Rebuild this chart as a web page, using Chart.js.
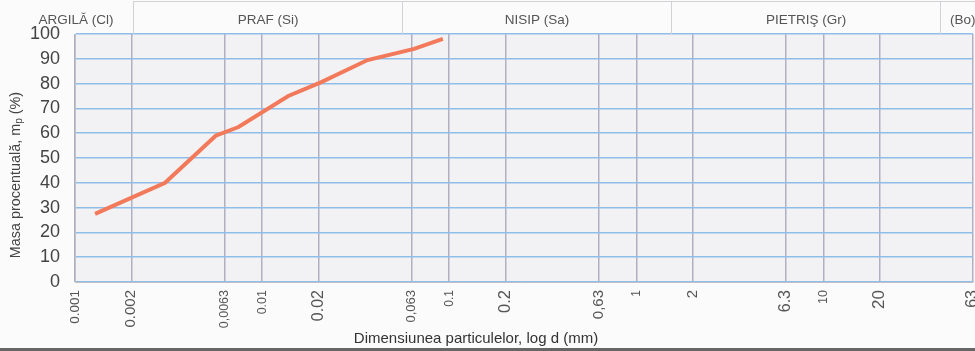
<!DOCTYPE html>
<html>
<head>
<meta charset="utf-8">
<script src="https://cdn.jsdelivr.net/npm/chart.js@4/dist/chart.umd.min.js"></script>
<style>
html,body{margin:0;padding:0;background:#fbfbfb;}
canvas{display:block;}
</style>
</head>
<body>
<canvas id="c" width="975" height="351"></canvas>
<script>
// ---- data ----
const sizes = [0.00128, 0.00303, 0.00565, 0.00748, 0.0138, 0.0206, 0.0366, 0.0649, 0.0925];
const passing = [27.5, 40, 59, 62.5, 75, 80.5, 89.5, 94, 98];
const xTickValues = [0.001, 0.002, 0.0063, 0.01, 0.02, 0.063, 0.1, 0.2, 0.63, 1, 2, 6.3, 10, 20, 63];
const xTickLabels = ['0.001', '0.002', '0,0063', '0.01', '0.02', '0,063', '0.1', '0.2', '0,63', '1', '2', '6.3', '10', '20', '63'];
const xTickSizes = [13.5, 15, 12.5, 12.5, 16, 13, 12, 16.5, 15, 12, 15, 16, 12.5, 17, 16];
const zoneLabels = ['ARGILĂ (Cl)', 'PRAF (Si)', 'NISIP (Sa)', 'PIETRIŞ (Gr)', '(Bo)'];
const yTitle = ['Masa procentuală, m', 'p', ' (%)'];
const xTitle = 'Dimensiunea particulelor, log d (mm)';

const FONT = "'Liberation Sans', Arial, sans-serif";

const decor = {
  id: 'decor',
  beforeDraw(chart) {
    const {ctx, chartArea: a} = chart;
    ctx.save();
    ctx.fillStyle = '#f2f2f4';
    ctx.fillRect(a.left, a.top, a.right - a.left, a.bottom - a.top);
    ctx.restore();
  },
  afterDraw(chart) {
    const {ctx, chartArea: a} = chart;
    const W = chart.width;
    ctx.save();
    // header table
    const x0 = 133;
    ctx.strokeStyle = '#d2d2d6';
    ctx.lineWidth = 1;
    ctx.beginPath();
    ctx.moveTo(x0, 1.5); ctx.lineTo(W, 1.5);
    for (let i = 0; i < 4; i++) {
      const x = Math.round(x0 + i * 269) + 0.5;
      ctx.moveTo(x, 1); ctx.lineTo(x, a.top);
    }
    ctx.stroke();
    ctx.fillStyle = '#555';
    ctx.font = '13.5px ' + FONT;
    ctx.textBaseline = 'middle';
    ctx.textAlign = 'center';
    ctx.fillText(zoneLabels[0], 76, 20);
    for (let i = 1; i <= 3; i++) {
      ctx.fillText(zoneLabels[i], x0 + (i - 1) * 269 + 135, 20);
    }
    ctx.textAlign = 'left';
    ctx.fillText(zoneLabels[4], 950, 20);

    // y title with subscript
    ctx.fillStyle = '#444';
    ctx.translate(16, 175);
    ctx.rotate(-Math.PI / 2);
    const big = '14.4px ' + FONT, sub = '10px ' + FONT;
    ctx.textBaseline = 'middle';
    ctx.font = big; const w1 = ctx.measureText(yTitle[0]).width;
    ctx.font = sub; const w2 = ctx.measureText(yTitle[1]).width;
    ctx.font = big; const w3 = ctx.measureText(yTitle[2]).width;
    let sx = -(w1 + w2 + w3) / 2;
    ctx.textAlign = 'left';
    ctx.font = big; ctx.fillText(yTitle[0], sx, 0); sx += w1;
    ctx.font = sub; ctx.fillText(yTitle[1], sx, 3.5); sx += w2;
    ctx.font = big; ctx.fillText(yTitle[2], sx, 0);
    ctx.setTransform(1, 0, 0, 1, 0, 0);

    // x title
    ctx.fillStyle = '#333';
    ctx.font = '15px ' + FONT;
    ctx.textAlign = 'center';
    ctx.textBaseline = 'middle';
    ctx.fillText(xTitle, 476, 339);

    // bottom rule
    ctx.strokeStyle = '#666';
    ctx.lineWidth = 3;
    ctx.beginPath();
    ctx.moveTo(0, 349.5); ctx.lineTo(W, 349.5);
    ctx.stroke();
    ctx.restore();
  }
};

new Chart(document.getElementById('c'), {
  type: 'scatter',
  data: {
    datasets: [{
      data: sizes.map((s, i) => ({x: s, y: passing[i]})),
      showLine: true,
      borderColor: '#f2795a',
      backgroundColor: '#f2795a',
      borderWidth: 4,
      pointRadius: 0,
      tension: 0
    }]
  },
  options: {
    responsive: false,
    animation: false,
    layout: {padding: {top: 34, right: 2, left: 0, bottom: 0}},
    plugins: {legend: {display: false}, tooltip: {enabled: false}},
    scales: {
      x: {
        type: 'logarithmic',
        min: 0.001,
        max: 63,
        afterBuildTicks(scale) {
          scale.ticks = xTickValues.map(v => ({value: v}));
        },
        afterFit(scale) {
          scale.height = 69;
          scale.paddingLeft = 0;
          scale.paddingRight = 0;
        },
        grid: {color: '#b0b0c2', lineWidth: 1.5, drawTicks: false},
        border: {color: '#c0c0c8'},
        ticks: {
          autoSkip: false,
          minRotation: 90,
          maxRotation: 90,
          padding: 8,
          color: '#555',
          font: (c) => ({family: FONT, size: xTickSizes[c.index] || 12}),
          callback: (v, i) => xTickLabels[i]
        }
      },
      y: {
        min: 0,
        max: 100,
        afterFit(scale) { scale.width = 75; },
        grid: {color: '#8fbde8', lineWidth: 1.5, drawTicks: false},
        border: {color: '#c0c0c8'},
        ticks: {
          stepSize: 10,
          padding: 15,
          color: '#444',
          font: {family: FONT, size: 18}
        }
      }
    }
  },
  plugins: [decor]
});
</script>
</body>
</html>
